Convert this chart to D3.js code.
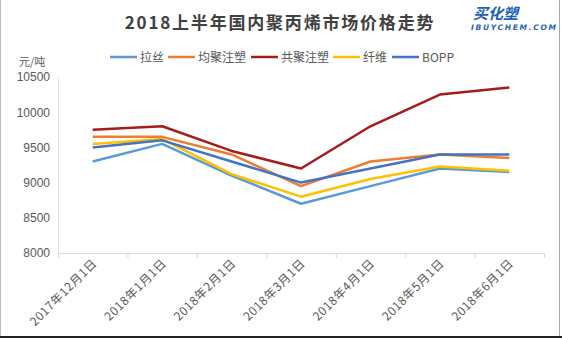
<!DOCTYPE html>
<html><head><meta charset="utf-8">
<script src="https://cdn.jsdelivr.net/npm/d3@7"></script>
<style>body{margin:0;background:#fff;}svg{display:block;}</style>
</head><body>
<svg id="c" width="562" height="338"></svg>
<script>
const categories = ["2017年12月1日","2018年1月1日","2018年2月1日","2018年3月1日","2018年4月1日","2018年5月1日","2018年6月1日"];
const seriesNames = ["拉丝","均聚注塑","共聚注塑","纤维","BOPP"];
const lasi   = [9300, 9550, 9100, 8700, 8950, 9200, 9150];
const junju  = [9650, 9650, 9400, 8950, 9300, 9400, 9350];
const gongju = [9750, 9800, 9450, 9200, 9800, 10250, 10350];
const xianwei= [9550, 9620, 9120, 8800, 9050, 9230, 9170];
const bopp   = [9500, 9600, 9300, 9000, 9200, 9400, 9400];
const yTicks = [8000, 8500, 9000, 9500, 10000, 10500];
const colors = ["#5b9bd5","#ed7d31","#a51c1c","#ffc000","#4472c4"];
const title = "2018上半年国内聚丙烯市场价格走势";
const unit = "元/吨";

const svg = d3.select("#c");
const font = "'Microsoft YaHei','Noto Sans CJK SC',sans-serif";
const mLeft = 58, mRight = 544, mTop = 77, mBottom = 253;

const x = d3.scaleBand().domain(categories).range([mLeft, mRight]);
const y = d3.scaleLinear().domain([8000, 10500]).range([mBottom, mTop]);

// frame
svg.append("line").attr("x1",0.5).attr("x2",0.5).attr("y1",0).attr("y2",338).attr("stroke","#bbb");
svg.append("line").attr("x1",559.5).attr("x2",559.5).attr("y1",0).attr("y2",338).attr("stroke","#aaa");
svg.append("rect").attr("x",0).attr("y",336).attr("width",562).attr("height",2).attr("fill","#222");

// title
svg.append("text").attr("x",280).attr("y",29).attr("text-anchor","middle")
  .attr("font-family",font).attr("font-size",17).attr("font-weight","bold")
  .attr("letter-spacing",1.8).attr("fill","#404040").text(title);

// logo
svg.append("text").attr("x",473).attr("y",19).attr("font-family",font).attr("font-size",15)
  .attr("font-weight","bold").attr("font-style","italic").attr("fill","#1d63b8").text("买化塑");
svg.append("text").attr("x",471).attr("y",30).attr("font-family","'DejaVu Sans',sans-serif").attr("font-size",7.5)
  .attr("font-weight","bold").attr("font-style","italic").attr("fill","#1d63b8").attr("textLength",85).text("IBUYCHEM.COM");

// unit
svg.append("text").attr("x",19).attr("y",66).attr("font-family",font).attr("font-size",11)
  .attr("fill","#595959").text(unit);

// y axis labels
const ya = svg.append("g").attr("transform",`translate(${mLeft},0)`)
  .call(d3.axisLeft(y).tickValues(yTicks).tickSize(0).tickPadding(8).tickFormat(d3.format("d")));
ya.select(".domain").attr("stroke","#e3e3e3");
ya.selectAll("text").attr("font-family","'Liberation Sans',Arial,sans-serif").attr("font-size",12).attr("fill","#595959");

// x axis
const xa = svg.append("g").attr("transform",`translate(0,${mBottom})`)
  .call(d3.axisBottom(x).tickSize(0).tickFormat(""));
xa.select(".domain").attr("stroke","#d9d9d9");
const bounds = categories.map(c => x(c)).concat([mRight]);
svg.append("g").selectAll("line").data(bounds).join("line")
  .attr("x1",d=>d+0.5).attr("x2",d=>d+0.5).attr("y1",mBottom).attr("y2",mBottom+5).attr("stroke","#d9d9d9");
svg.append("g").selectAll("text").data(categories).join("text")
  .attr("transform",d=>`translate(${x(d)+x.bandwidth()/2+5},${mBottom+11}) rotate(-45)`)
  .attr("text-anchor","end").attr("font-family",font).attr("font-size",12).attr("letter-spacing",0.6)
  .attr("fill","#595959").text(d=>d);

// lines
const data = [lasi, junju, gongju, xianwei, bopp];
const line = d3.line().x((d,i)=>x(categories[i])+x.bandwidth()/2).y(d=>y(d));
svg.append("g").selectAll("path").data(data).join("path")
  .attr("d",line).attr("fill","none").attr("stroke",(d,i)=>colors[i]).attr("stroke-width",2.5)
  .attr("stroke-linejoin","round");

// legend
const legX = [110, 168, 251, 333, 392];
const lg = svg.append("g").selectAll("g").data(seriesNames).join("g")
  .attr("transform",(d,i)=>`translate(${legX[i]},57)`);
lg.append("line").attr("x1",0).attr("x2",27).attr("stroke",(d,i)=>colors[i]).attr("stroke-width",2.5);
lg.append("text").attr("x",30).attr("y",4.5).attr("font-family",font).attr("font-size",12)
  .attr("fill","#595959").text(d=>d);
</script>
</body></html>
